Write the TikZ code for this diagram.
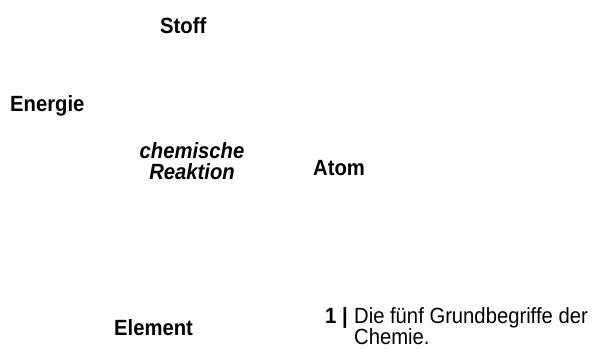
\documentclass[tikz,border=0pt]{standalone}
\usepackage{fontspec}
\setmainfont[FakeStretch=0.92]{Liberation Sans}
\usepackage{tikz}
\usetikzlibrary{positioning}
\tikzset{
  termlabel/.style={inner sep=0pt, anchor=base west, font=\fontsize{22}{21}\selectfont\bfseries},
  reaclabel/.style={inner sep=0pt, anchor=base, align=center, font=\fontsize{22}{21}\selectfont\bfseries\itshape},
  caplabel/.style={inner sep=0pt, anchor=base west, font=\fontsize{22}{21}\selectfont}
}
\begin{document}
\begin{tikzpicture}[x=1pt, y=-1pt]
  \useasboundingbox (0,0) rectangle (593,349);
  \node[termlabel] (stoff) at (160,33) {Stoff};
  \node[termlabel] (energie) at (10,111) {Energie};
  % base anchor sits on the last line
  \node[reaclabel] (reaktion) at (192,179) {chemische\\Reaktion};
  \node[termlabel] (atom) at (313,175) {Atom};
  \node[termlabel] (element) at (114,335) {Element};

  \node[caplabel] (capnum) at (325,323) {\textbf{1 |}};
  \node[caplabel, right=6pt of capnum.base east, anchor=base west] (cap1) {Die fünf Grundbegriffe der};
  \node[caplabel, anchor=base west] (cap2) at ([yshift=-21pt]cap1.base west) {Chemie.};
\end{tikzpicture}
\end{document}
